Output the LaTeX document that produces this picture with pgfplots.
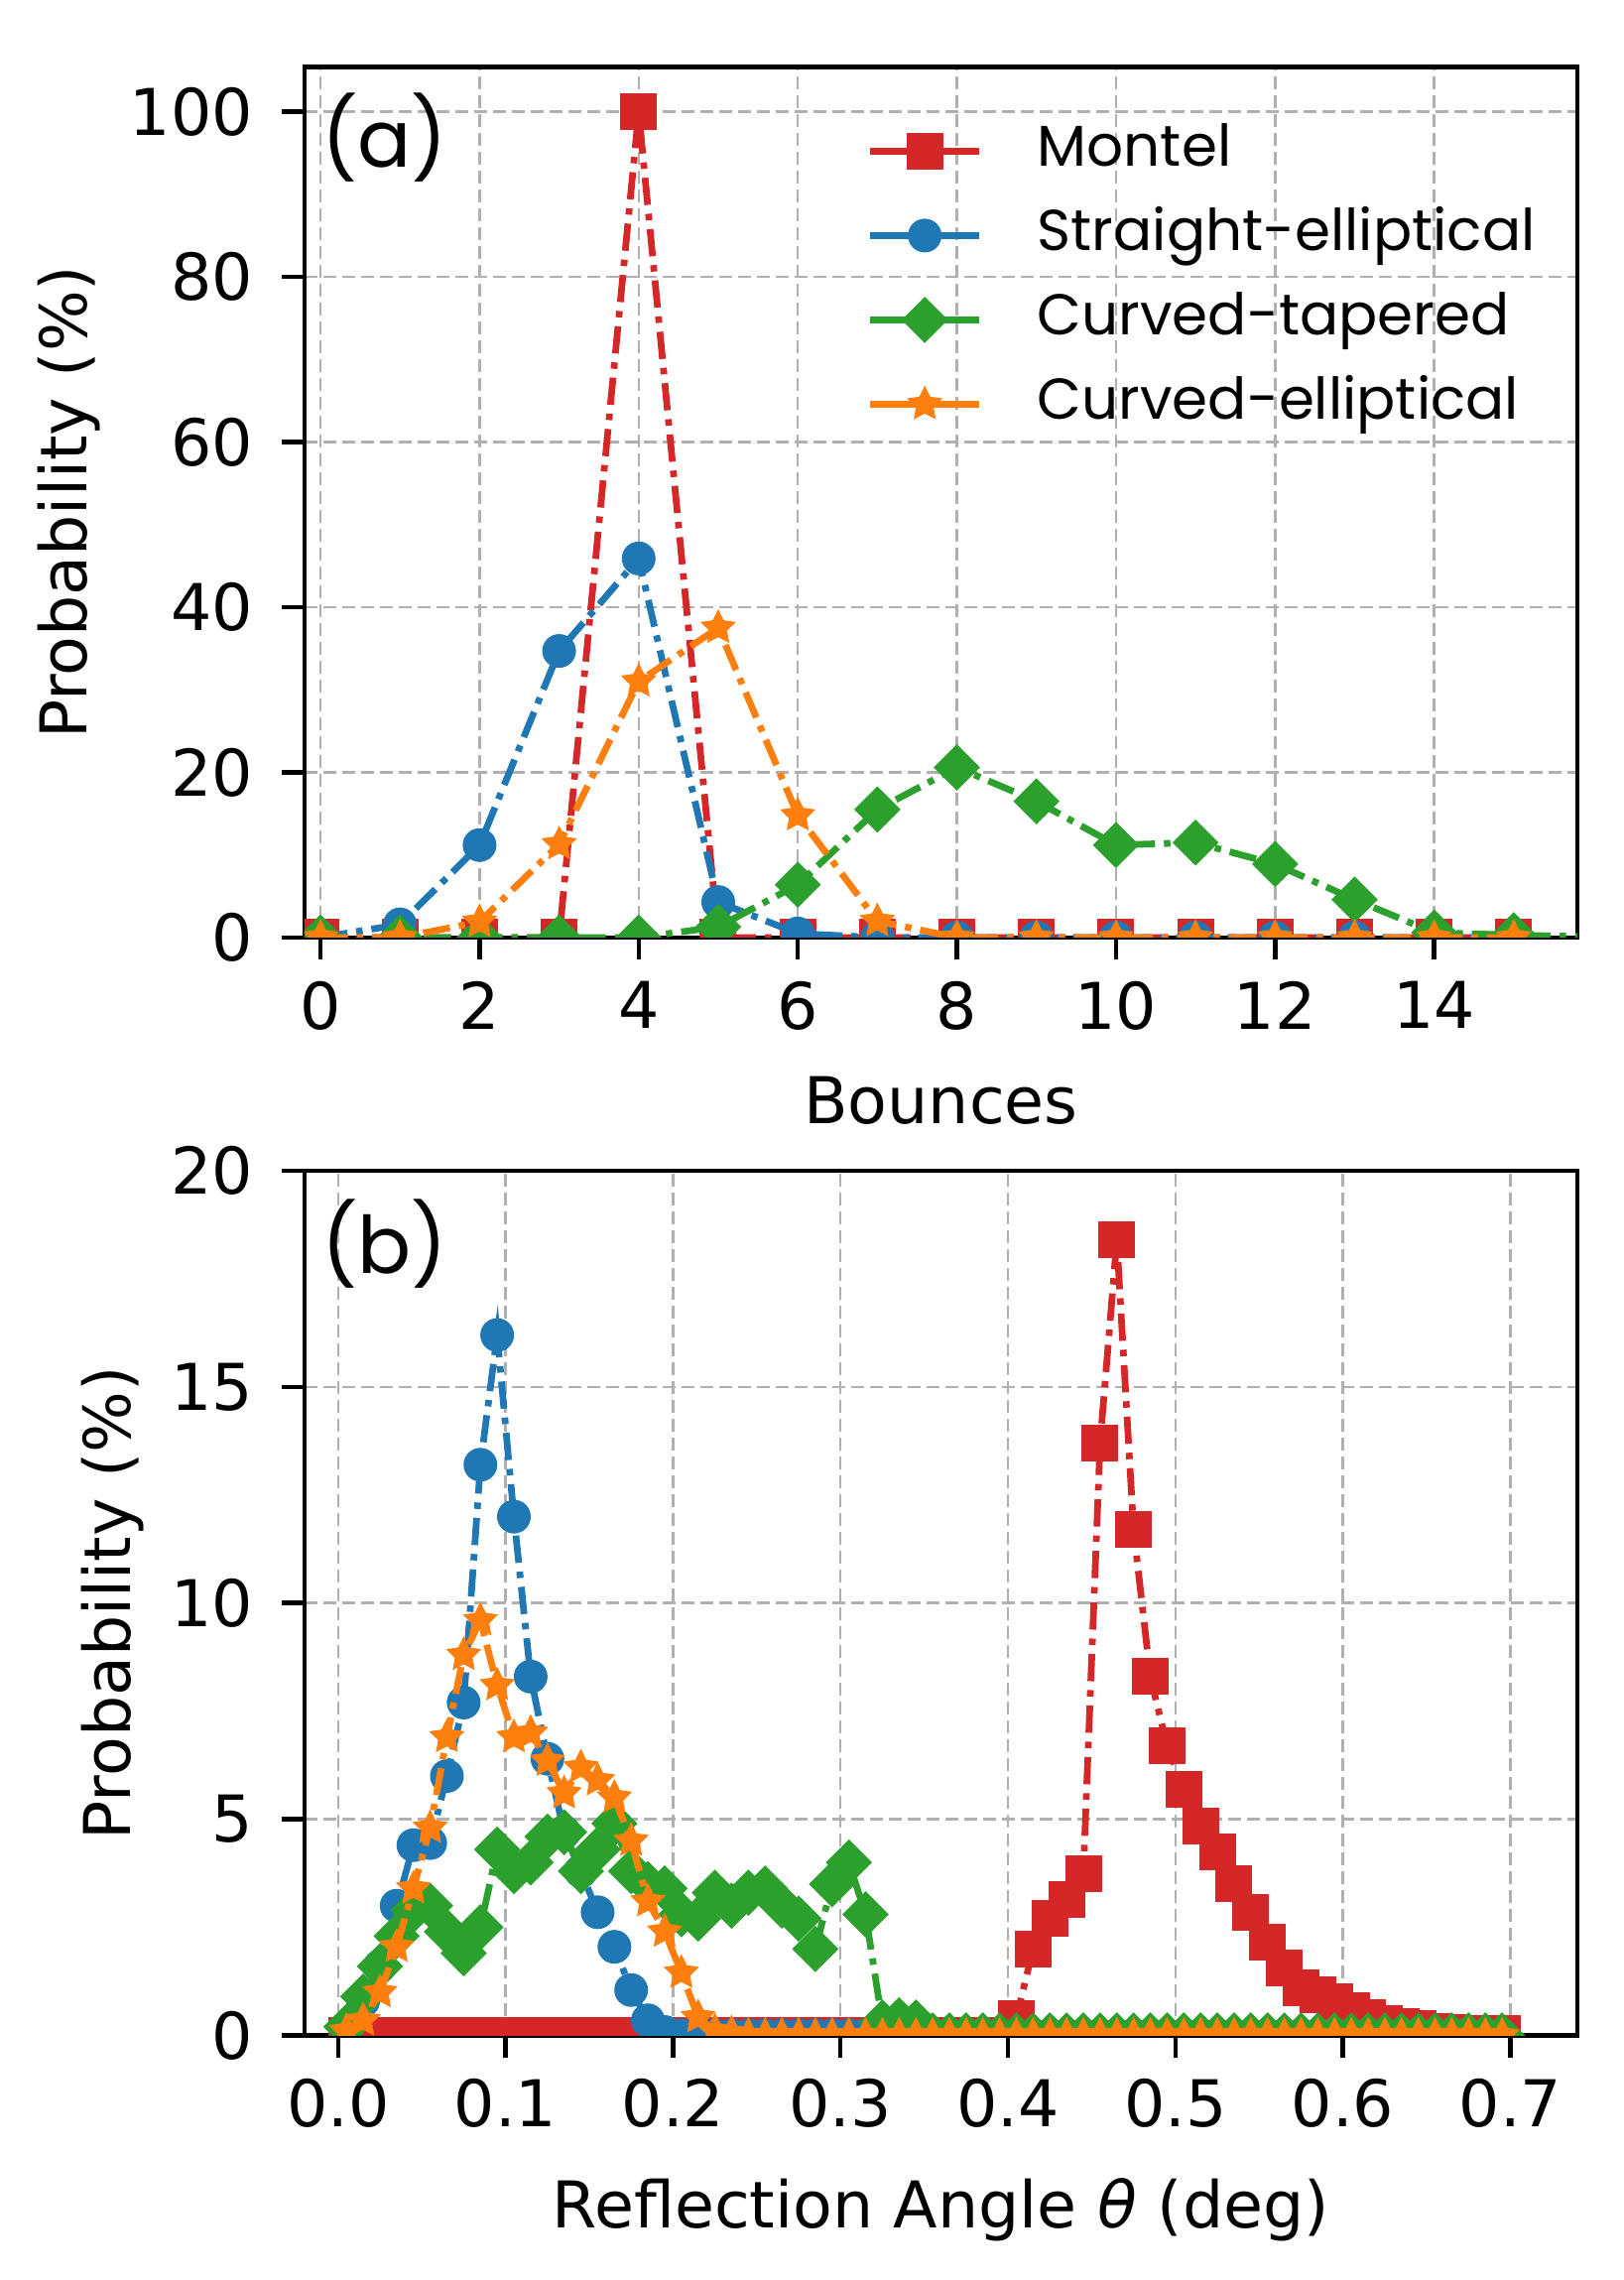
\documentclass[border=0pt]{standalone}
\usepackage{fontspec}
\setmainfont{DejaVu Sans}
\newfontfamily\pop{Poppins}
\usepackage{pgfplots}
\pgfplotsset{compat=1.18}
\usetikzlibrary{plotmarks}
\definecolor{tred}{HTML}{D62728}
\definecolor{tblue}{HTML}{1F77B4}
\definecolor{tgreen}{HTML}{2CA02C}
\definecolor{torange}{HTML}{FF7F0E}
\definecolor{gridgray}{HTML}{B0B0B0}
\pgfdeclareplotmark{fstar}{%
 \pgfpathmoveto{\pgfqpointpolar{90}{\pgfplotmarksize}}%
 \pgfpathlineto{\pgfqpointpolar{126}{0.5\pgfplotmarksize}}%
 \pgfpathlineto{\pgfqpointpolar{162}{\pgfplotmarksize}}%
 \pgfpathlineto{\pgfqpointpolar{198}{0.5\pgfplotmarksize}}%
 \pgfpathlineto{\pgfqpointpolar{234}{\pgfplotmarksize}}%
 \pgfpathlineto{\pgfqpointpolar{270}{0.5\pgfplotmarksize}}%
 \pgfpathlineto{\pgfqpointpolar{306}{\pgfplotmarksize}}%
 \pgfpathlineto{\pgfqpointpolar{342}{0.5\pgfplotmarksize}}%
 \pgfpathlineto{\pgfqpointpolar{18}{\pgfplotmarksize}}%
 \pgfpathlineto{\pgfqpointpolar{54}{0.5\pgfplotmarksize}}%
 \pgfpathclose
 \pgfusepathqfillstroke}
\pgfplotsset{
 common/.style={
  anchor=south west, scale only axis, width=256.6pt,
  axis line style={line width=0.9pt},
  tick align=outside, tick pos=left,
  major tick length=4.5pt,
  every tick/.style={black, line width=0.9pt},
  grid=major,
  major grid style={dash pattern=on 2.6pt off 1.2pt, line width=0.5pt, color=gridgray},
  tick label style={font=\fontsize{13}{15}\selectfont},
  yticklabel style={xshift=-2.4pt},
  xticklabel style={yshift=-0.8pt},
  label style={font=\fontsize{13}{15}\selectfont},
  /pgf/number format/assume math mode=true,
  clip marker paths=true,
  every axis plot/.append style={line width=1.35pt, dash pattern=on 5.5pt off 1.8pt on 1.3pt off 1.8pt},
 },
 sred/.style={color=tred, mark=square*, mark size=3.5pt, mark options={solid, line width=0.4pt, fill=tred, draw=tred}},
 sblue/.style={color=tblue, mark=*, mark size=3.2pt, mark options={solid, line width=0.4pt, fill=tblue, draw=tblue}},
 sgreen/.style={color=tgreen, mark=square*, mark size=3.1pt, mark options={solid, rotate=45, line width=0.4pt, fill=tgreen, draw=tgreen}},
 sorange/.style={color=torange, mark=fstar, mark size=3.2pt, mark options={solid, line width=0.5pt, fill=torange, draw=torange}},
}
\begin{document}
\begin{tikzpicture}
\path[use as bounding box] (0,0) rectangle (327.2pt,459.6pt);
% ---------------- (a)
\begin{axis}[common, at={(61.4pt,270.6pt)}, height=175.5pt,
  xmin=-0.2, xmax=15.8, ymin=0, ymax=105.4,
  xtick={0,2,...,14}, ytick={0,20,...,100},
  xlabel={Bounces}, ylabel={Probability (\%)},
  xlabel style={at={(axis description cs:0.5,-0.1867)}, anchor=center},
  ylabel style={at={(axis description cs:-0.1847,0.5)}, anchor=center},
  legend style={draw=none, fill=none, at={(axis description cs:0.4412,0.9385)}, anchor=north west,
    inner sep=0pt, column sep=11.1pt, row sep=5.0pt,
    font=\pop\fontsize{11.6}{14}\selectfont,
    nodes={inner sep=0pt, text height=9pt, text depth=3pt}},
  legend cell align=left,
  legend image code/.code={\draw[mark repeat=2,mark phase=2,solid] plot coordinates {(0pt,0pt) (10.95pt,0pt) (21.9pt,0pt)};},
]
\addplot[sred] coordinates {(0,0)(1,0)(2,0)(3,0)(4,100)(5,0)(6,0)(7,0)(8,0)(9,0)(10,0)(11,0)(12,0)(13,0)(14,0)(15,0)};
\addlegendentry{Montel}
\addplot[sblue] coordinates {(0,0)(1,1.6)(2,11.2)(3,34.7)(4,45.9)(5,4.3)(6,0.5)(7,0)(8,0)(9,0)(10,0)(11,0)(12,0)(13,0)(14,0)(15,0)};
\addlegendentry{Straight-elliptical}
\addplot[sgreen] coordinates {(0,0)(1,0)(2,0)(3,0)(4,0)(5,1.3)(6,6.4)(7,15.5)(8,20.6)(9,16.5)(10,11.2)(11,11.5)(12,8.9)(13,4.6)(14,0.6)(15,0.3)(16,0.1)};
\addlegendentry{Curved-tapered}
\addplot[sorange] coordinates {(0,0)(1,0)(2,1.9)(3,11.3)(4,31.0)(5,37.5)(6,14.8)(7,2.0)(8,0)(9,0)(10,0)(11,0)(12,0)(13,0)(14,0)(15,0)};
\addlegendentry{Curved-elliptical}
\node[font=\pop\fontsize{16}{19}\selectfont] at (axis description cs:0.0631,0.9195) {(a)};
\end{axis}
% ---------------- (b)
\begin{axis}[common, at={(61.4pt,49.3pt)}, height=174.3pt,
  xmin=-0.02, xmax=0.74, ymin=0, ymax=20,
  xtick={0,0.1,...,0.71}, ytick={0,5,10,15,20},
  x tick label style={/pgf/number format/fixed, /pgf/number format/fixed zerofill, /pgf/number format/precision=1},
  xlabel={Reflection Angle \textit{θ} (deg)}, ylabel={Probability (\%)},
  xlabel style={at={(axis description cs:0.5,-0.2015)}, anchor=center},
  ylabel style={at={(axis description cs:-0.1504,0.5)}, anchor=center},
]
\addplot[sred] coordinates {
(0.005,0)(0.015,0)(0.025,0)(0.035,0)(0.045,0)(0.055,0)(0.065,0)(0.075,0)(0.085,0)(0.095,0)
(0.105,0)(0.115,0)(0.125,0)(0.135,0)(0.145,0)(0.155,0)(0.165,0)(0.175,0)(0.185,0)(0.195,0)
(0.205,0)(0.215,0)(0.225,0)(0.235,0)(0.245,0)(0.255,0)(0.265,0)(0.275,0)(0.285,0)(0.295,0)
(0.305,0)(0.315,0)(0.325,0)(0.335,0)(0.345,0)(0.355,0)(0.365,0)(0.375,0)(0.385,0)(0.395,0)
(0.405,0.4)(0.415,2.0)(0.425,2.7)(0.435,3.15)(0.445,3.75)(0.455,13.7)(0.465,18.4)(0.475,11.7)(0.485,8.3)(0.495,6.7)
(0.505,5.7)(0.515,4.85)(0.525,4.25)(0.535,3.5)(0.545,2.85)(0.555,2.15)(0.565,1.55)(0.575,1.1)(0.585,0.95)(0.595,0.78)
(0.605,0.58)(0.615,0.42)(0.625,0.28)(0.635,0.2)(0.645,0.15)(0.655,0.1)(0.665,0.08)(0.675,0.05)(0.685,0.05)(0.695,0.05)};
\addplot[sblue] coordinates {
(0.005,0.15)(0.015,0.8)(0.025,1.6)(0.035,3.0)(0.045,4.4)(0.055,4.45)(0.065,6.0)(0.075,7.7)(0.085,13.2)(0.095,16.2)
(0.105,12.0)(0.115,8.3)(0.125,6.4)(0.135,4.7)(0.145,3.8)(0.155,2.85)(0.165,2.05)(0.175,1.05)(0.185,0.35)(0.195,0.08)
(0.205,0)(0.215,0)(0.225,0)(0.235,0)(0.245,0)(0.255,0)(0.265,0)(0.275,0)(0.285,0)(0.295,0)
(0.305,0)(0.315,0)(0.325,0)(0.335,0)(0.345,0)(0.355,0)(0.365,0)(0.375,0)(0.385,0)(0.395,0)
(0.405,0)(0.415,0)(0.425,0)(0.435,0)(0.445,0)(0.455,0)(0.465,0)(0.475,0)(0.485,0)(0.495,0)
(0.505,0)(0.515,0)(0.525,0)(0.535,0)(0.545,0)(0.555,0)(0.565,0)(0.575,0)(0.585,0)(0.595,0)
(0.605,0)(0.615,0)(0.625,0)(0.635,0)(0.645,0)(0.655,0)(0.665,0)(0.675,0)(0.685,0)(0.695,0)};
\addplot[sgreen] coordinates {
(0.005,0.2)(0.015,0.9)(0.025,1.6)(0.035,2.3)(0.045,2.9)(0.055,3.0)(0.065,2.4)(0.075,1.9)(0.085,2.5)(0.095,4.3)
(0.105,3.8)(0.115,4.0)(0.125,4.6)(0.135,4.7)(0.145,3.8)(0.155,4.3)(0.165,4.9)(0.175,3.8)(0.185,3.5)(0.195,3.4)
(0.205,2.8)(0.215,2.7)(0.225,3.3)(0.235,3.0)(0.245,3.3)(0.255,3.4)(0.265,3.0)(0.275,2.7)(0.285,2.0)(0.295,3.5)
(0.305,4.0)(0.315,2.8)(0.325,0.3)(0.335,0.35)(0.345,0.3)(0.355,0)(0.365,0)(0.375,0)(0.385,0)(0.395,0)
(0.405,0)(0.415,0)(0.425,0)(0.435,0)(0.445,0)(0.455,0)(0.465,0)(0.475,0)(0.485,0)(0.495,0)
(0.505,0)(0.515,0)(0.525,0)(0.535,0)(0.545,0)(0.555,0)(0.565,0)(0.575,0)(0.585,0)(0.595,0)
(0.605,0)(0.615,0)(0.625,0)(0.635,0)(0.645,0)(0.655,0)(0.665,0)(0.675,0)(0.685,0)(0.695,0)};
\addplot[sorange] coordinates {
(0.005,0.1)(0.015,0.35)(0.025,1.0)(0.035,2.05)(0.045,3.4)(0.055,4.8)(0.065,6.9)(0.075,8.8)(0.085,9.6)(0.095,8.1)
(0.105,6.9)(0.115,7.0)(0.125,6.35)(0.135,5.6)(0.145,6.2)(0.155,5.9)(0.165,5.5)(0.175,4.5)(0.185,3.1)(0.195,2.4)
(0.205,1.45)(0.215,0.42)(0.225,0.1)(0.235,0.05)(0.245,0)(0.255,0)(0.265,0)(0.275,0)(0.285,0)(0.295,0)
(0.305,0)(0.315,0)(0.325,0)(0.335,0)(0.345,0)(0.355,0)(0.365,0)(0.375,0)(0.385,0)(0.395,0)
(0.405,0)(0.415,0)(0.425,0)(0.435,0)(0.445,0)(0.455,0)(0.465,0)(0.475,0)(0.485,0)(0.495,0)
(0.505,0)(0.515,0)(0.525,0)(0.535,0)(0.545,0)(0.555,0)(0.565,0)(0.575,0)(0.585,0)(0.595,0)
(0.605,0)(0.615,0)(0.625,0)(0.635,0)(0.645,0)(0.655,0)(0.665,0)(0.675,0)(0.685,0)(0.695,0)};
\node[font=\pop\fontsize{16}{19}\selectfont] at (axis description cs:0.0631,0.916) {(b)};
\end{axis}
\end{tikzpicture}
\end{document}
